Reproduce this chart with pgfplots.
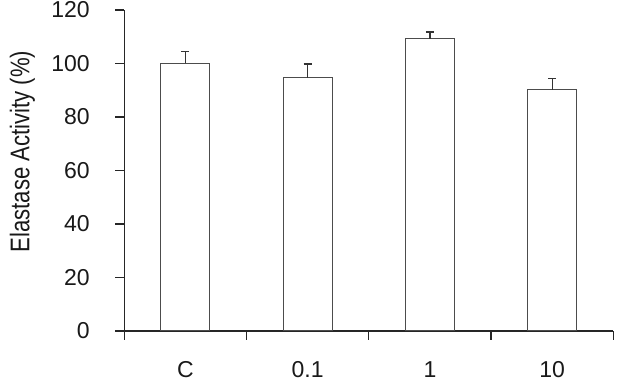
\documentclass[border=0pt]{standalone}
\usepackage{pgfplots}
\pgfplotsset{compat=1.18}
\usepackage{fontspec}
\setmainfont{Liberation Sans}
\begin{document}
\begin{tikzpicture}
\useasboundingbox (-124.3pt,-51pt) rectangle (499.7pt,331pt);
\begin{axis}[
  at={(0,0)}, anchor=south west,
  scale only axis,
  width=489pt, height=321pt,
  xmin=-0.5, xmax=3.5, ymin=0, ymax=120,
  axis lines=left,
  axis line style={-, line width=1.1pt, black!85},
  tick style={line width=1.1pt, black!85},
  tick align=outside,
  major tick length=9pt,
  ytick={0,20,...,120},
  xtick={-0.5,0.5,1.5,2.5,3.5},
  xticklabels={,,,,},
  extra x ticks={0,1,2,3},
  extra x tick labels={C,0.1,1,10},
  extra x tick style={major tick length=0pt, tick style={draw=none}},
  /pgf/number format/assume math mode=true,
  ticklabel style={font=\fontsize{23}{27}\selectfont, black!90},
  xticklabel style={yshift=-27pt},
  yticklabel style={xshift=-22pt},
  ylabel={\scalebox{0.82}[1]{Elastase Activity (\%)}},
  ylabel style={font=\fontsize{27}{31}\selectfont, at={(axis description cs:0,0.559)}, anchor=center, yshift=101.8pt, black!90},
  clip=false,
]
\addplot[ybar, bar width=0.4, fill=white, draw=black!70, line width=1pt,
  error bars/.cd, y dir=plus, y explicit,
  error bar style={line width=1.3pt, black!80},
  error mark options={rotate=90, black!80, line width=1.3pt, mark size=4pt}]
coordinates {
  (0,100) +- (0,4.5)
  (1,94.7) +- (0,5.1)
  (2,109.2) +- (0,2.6)
  (3,90.1) +- (0,4.2)
};
\end{axis}
\end{tikzpicture}
\end{document}
